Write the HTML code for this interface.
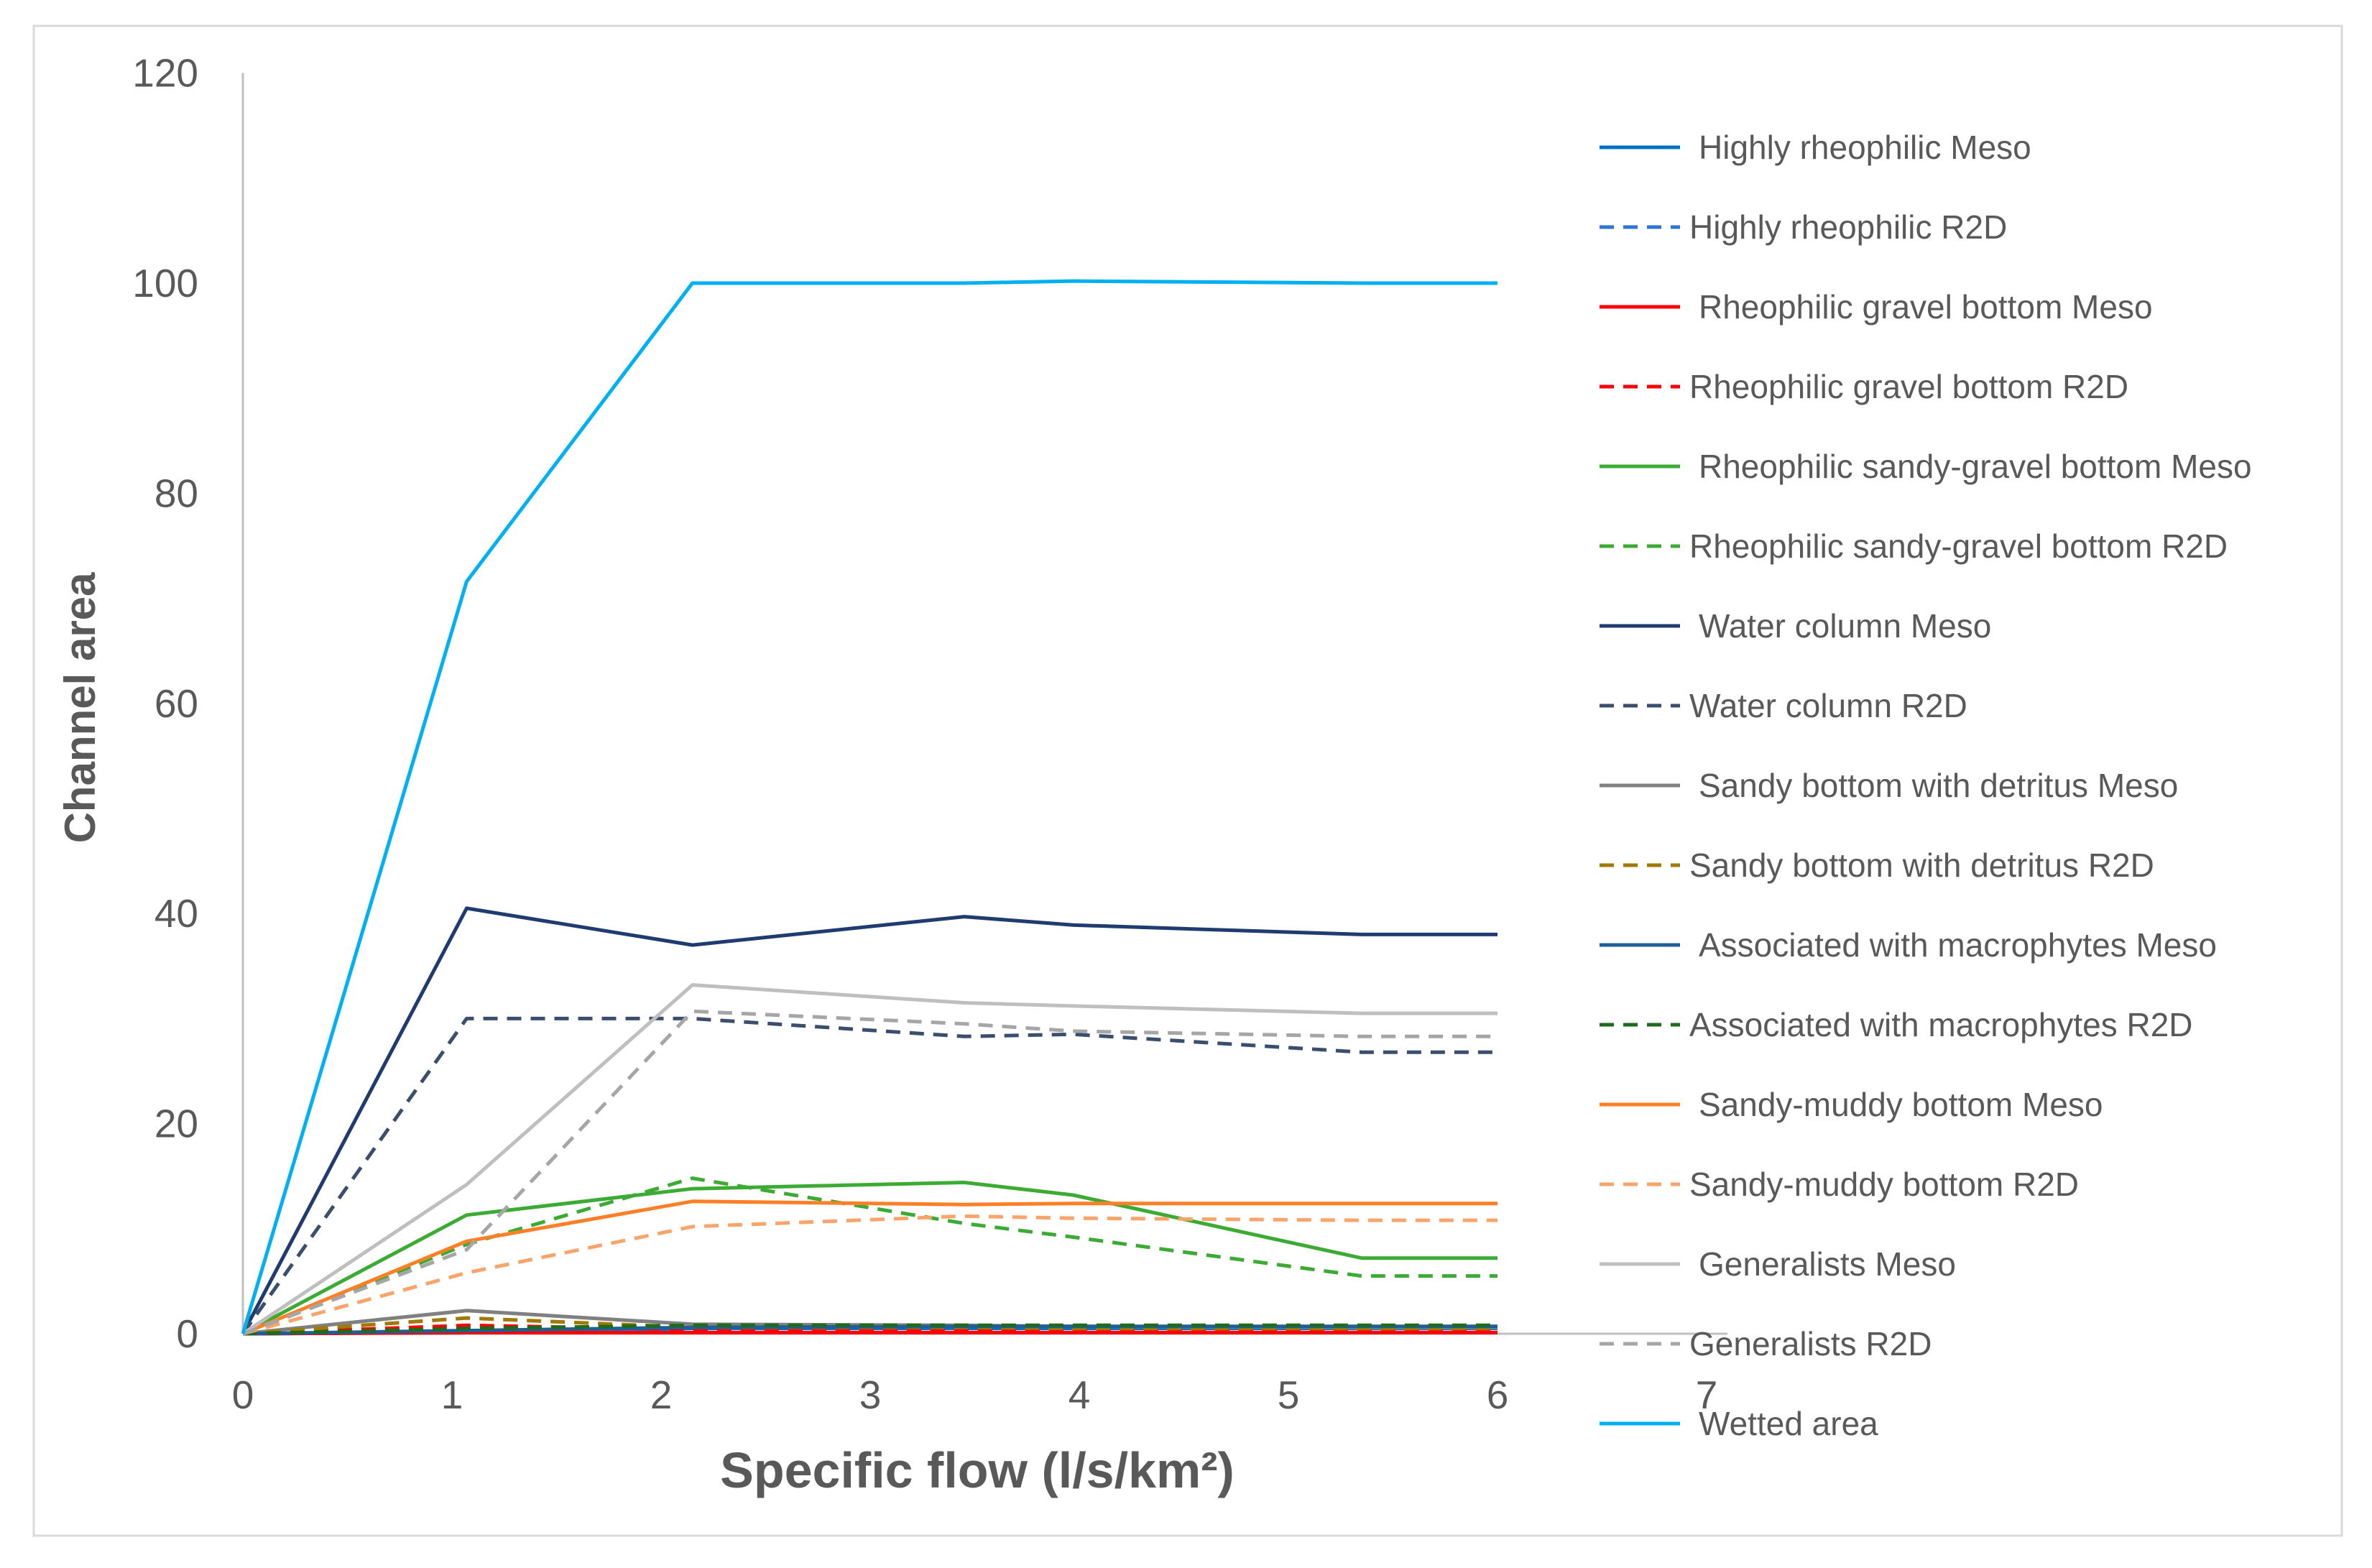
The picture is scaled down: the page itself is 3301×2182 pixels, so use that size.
<!DOCTYPE html>
<html><head><meta charset="utf-8"><style>
html,body{margin:0;padding:0;background:#fff;}
svg{display:block;font-family:"Liberation Sans",sans-serif;}
</style></head><body>
<svg id="chart" width="3301" height="2182" viewBox="0 0 3301 2182" xmlns="http://www.w3.org/2000/svg">
<rect x="47" y="36" width="3212" height="2101" fill="#fff" stroke="#d9d9d9" stroke-width="3"/>
<g id="axes"></g>
<g id="series"></g>
<g id="legend"></g>
<text transform="translate(132,985) rotate(-90)" text-anchor="middle" font-size="60" font-weight="bold" fill="#595959">Channel area</text>
<text x="1360" y="2070" text-anchor="middle" font-size="70" font-weight="bold" fill="#595959">Specific flow (l/s/km²)</text>
</svg>
<script>
const xValues = [0, 1.07, 2.15, 3.45, 3.97, 5.35, 6];
const yTicks = [0, 20, 40, 60, 80, 100, 120];
const xTicks = [0, 1, 2, 3, 4, 5, 6, 7];
const highlyMeso = [0, 0.1, 0.5, 0.5, 0.5, 0.5, 0.5];
const highlyR2D = [0, 0.2, 0.3, 0.3, 0.3, 0.3, 0.3];
const gravelMeso = [0, 0.1, 0.1, 0.1, 0.1, 0.1, 0.1];
const gravelR2D = [0, 0.8, 0.4, 0.3, 0.3, 0.3, 0.3];
const sandyGravelMeso = [0, 11.3, 13.8, 14.4, 13.2, 7.2, 7.2];
const sandyGravelR2D = [0, 8.5, 14.8, 10.5, 9.2, 5.5, 5.5];
const waterMeso = [0, 40.5, 37, 39.7, 38.9, 38, 38];
const waterR2D = [0, 30, 30, 28.3, 28.5, 26.8, 26.8];
const detritusMeso = [0, 2.2, 0.9, 0.8, 0.7, 0.6, 0.6];
const detritusR2D = [0, 1.5, 0.6, 0.6, 0.5, 0.5, 0.5];
const macroMeso = [0, 0.3, 0.6, 0.7, 0.7, 0.7, 0.7];
const macroR2D = [0, 0.5, 0.8, 0.8, 0.8, 0.8, 0.8];
const muddyMeso = [0, 8.8, 12.6, 12.3, 12.4, 12.4, 12.4];
const muddyR2D = [0, 5.8, 10.2, 11.2, 11.0, 10.8, 10.8];
const generalistsMeso = [0, 14.2, 33.2, 31.5, 31.2, 30.5, 30.5];
const generalistsR2D = [0, 8, 30.7, 29.5, 28.8, 28.3, 28.3];
const wetted = [0, 71.6, 100, 100, 100.2, 100, 100];

const X0 = 338, XU = 291, Y0 = 1856, YU = 14.62;
const sx = v => X0 + v * XU;
const sy = v => Y0 - v * YU;
const NS = "http://www.w3.org/2000/svg";
function mk(tag, attrs, parent) {
  const e = document.createElementNS(NS, tag);
  for (const k in attrs) e.setAttribute(k, attrs[k]);
  parent.appendChild(e);
  return e;
}
const axes = document.getElementById('axes');
const yAxis = mk('line', {x1: sx(0), y1: sy(0), x2: sx(0), y2: sy(120), stroke: '#bfbfbf', 'stroke-width': 3}, axes);


const xAxis = mk('line', {x1: sx(0), y1: sy(0), x2: sx(7.1), y2: sy(0), stroke: '#bfbfbf', 'stroke-width': 3}, axes);


yTicks.forEach(t => {
  const e = mk('text', {x: sx(0) - 62, y: sy(t) + 19, 'text-anchor': 'end', 'font-size': 55, fill: '#595959'}, axes);
  e.textContent = t;
  
  
});
xTicks.forEach(t => {
  const e = mk('text', {x: sx(t), y: sy(0) + 104, 'text-anchor': 'middle', 'font-size': 55, fill: '#595959'}, axes);
  e.textContent = t;
  
  
});

const seriesList = [
  {label: 'Highly rheophilic Meso', data: highlyMeso, color: '#0070C0', dash: false, name: 'highly-rheophilic-meso'},
  {label: 'Highly rheophilic  R2D', data: highlyR2D, color: '#2E75D6', dash: true, name: 'highly-rheophilic-r2d'},
  {label: 'Rheophilic gravel bottom Meso', data: gravelMeso, color: '#FF0000', dash: false, name: 'gravel-bottom-meso'},
  {label: 'Rheophilic gravel bottom  R2D', data: gravelR2D, color: '#FF0000', dash: true, name: 'gravel-bottom-r2d'},
  {label: 'Rheophilic sandy-gravel bottom  Meso', data: sandyGravelMeso, color: '#3CAB34', dash: false, name: 'sandy-gravel-meso'},
  {label: 'Rheophilic sandy-gravel bottom R2D', data: sandyGravelR2D, color: '#3CAB34', dash: true, name: 'sandy-gravel-r2d'},
  {label: 'Water column  Meso', data: waterMeso, color: '#1F3B70', dash: false, name: 'water-column-meso'},
  {label: 'Water column R2D', data: waterR2D, color: '#3B4E6E', dash: true, name: 'water-column-r2d'},
  {label: 'Sandy bottom with detritus  Meso', data: detritusMeso, color: '#808080', dash: false, name: 'sandy-detritus-meso'},
  {label: 'Sandy bottom with detritus R2D', data: detritusR2D, color: '#A07A00', dash: true, name: 'sandy-detritus-r2d'},
  {label: 'Associated with macrophytes  Meso', data: macroMeso, color: '#1F5F96', dash: false, name: 'macrophytes-meso'},
  {label: 'Associated with macrophytes R2D', data: macroR2D, color: '#1E6B1E', dash: true, name: 'macrophytes-r2d'},
  {label: 'Sandy-muddy bottom  Meso', data: muddyMeso, color: '#FF7F27', dash: false, name: 'sandy-muddy-meso'},
  {label: 'Sandy-muddy bottom R2D', data: muddyR2D, color: '#F9A46A', dash: true, name: 'sandy-muddy-r2d'},
  {label: 'Generalists  Meso', data: generalistsMeso, color: '#BFBFBF', dash: false, name: 'generalists-meso'},
  {label: 'Generalists R2D', data: generalistsR2D, color: '#A6A6A6', dash: true, name: 'generalists-r2d'},
  {label: 'Wetted area', data: wetted, color: '#00B0F0', dash: false, name: 'wetted-area'}
];
const sg = document.getElementById('series');
const lg = document.getElementById('legend');
seriesList.forEach((s, i) => {
  const pts = s.data.map((v, j) => sx(xValues[j]).toFixed(1) + ',' + sy(v).toFixed(1)).join(' ');
  const a = {points: pts, fill: 'none', stroke: s.color, 'stroke-width': 5, 'stroke-linejoin': 'round'};
  if (s.dash) a['stroke-dasharray'] = '20,13';
  const pl = mk('polyline', a, sg);
  
  
  const ly = 205 + i * 111;
  const g = mk('g', {}, lg);
  
  
  const la = {x1: 2226, y1: ly, x2: 2338, y2: ly, stroke: s.color, 'stroke-width': 5};
  if (s.dash) la['stroke-dasharray'] = '20,13';
  const ll = mk('line', la, g);
  
  
  const t = mk('text', {x: s.dash ? 2351 : 2364, y: ly + 16, 'font-size': 46, fill: '#595959'}, g);
  t.textContent = s.label;
  
  
});
</script>
</body></html>
